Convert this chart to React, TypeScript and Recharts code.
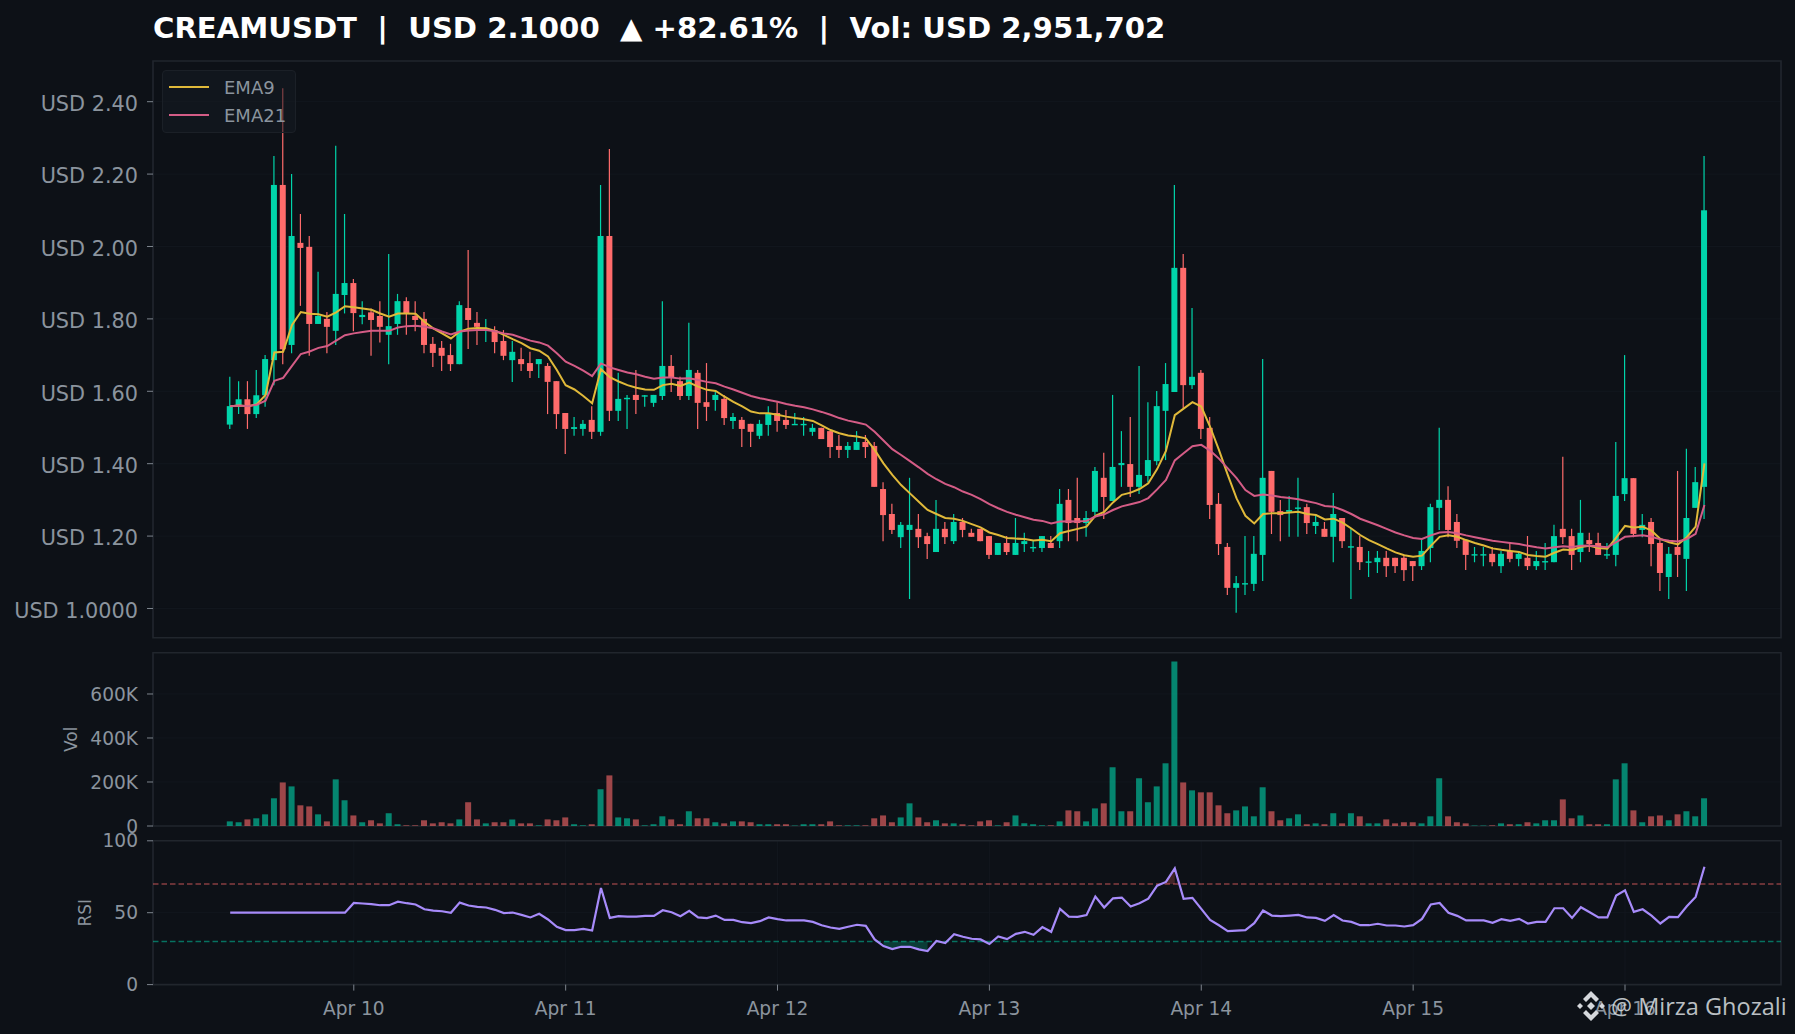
import React from 'react'
import {
  Area,
  Bar,
  CartesianGrid,
  Cell,
  ComposedChart,
  Legend,
  Line,
  ReferenceArea,
  ReferenceLine,
  XAxis,
  YAxis,
} from 'recharts'

// hourly candles, Apr 9 10:00 to Apr 16 09:00
const opens = [
  1.508, 1.558, 1.578, 1.537, 1.589, 1.686, 2.17, 1.728, 2.01, 1.999,
  1.786, 1.8, 1.767, 1.866, 1.899, 1.805, 1.818, 1.808, 1.756, 1.786,
  1.849, 1.808, 1.8, 1.731, 1.72, 1.7, 1.675, 1.83, 1.789, 1.769,
  1.769, 1.739, 1.686, 1.689, 1.678, 1.675, 1.67, 1.628, 1.54, 1.496,
  1.496, 1.521, 1.488, 2.029, 1.546, 1.578, 1.59, 1.587, 1.568, 1.587,
  1.67, 1.628, 1.587, 1.651, 1.57, 1.576, 1.579, 1.518, 1.521, 1.51,
  1.477, 1.507, 1.54, 1.521, 1.508, 1.508, 1.488, 1.499, 1.49, 1.449,
  1.438, 1.438, 1.46, 1.449, 1.33, 1.261, 1.197, 1.217, 1.22, 1.2,
  1.156, 1.22, 1.186, 1.239, 1.209, 1.22, 1.2, 1.148, 1.181, 1.148,
  1.178, 1.168, 1.167, 1.181, 1.186, 1.3, 1.25, 1.236, 1.267, 1.361,
  1.297, 1.396, 1.399, 1.336, 1.366, 1.407, 1.546, 1.598, 1.941, 1.617,
  1.651, 1.499, 1.289, 1.17, 1.057, 1.068, 1.068, 1.148, 1.38, 1.269,
  1.267, 1.278, 1.28, 1.228, 1.22, 1.198, 1.25, 1.168, 1.17, 1.128,
  1.128, 1.14, 1.14, 1.14, 1.131, 1.117, 1.167, 1.278, 1.3, 1.239,
  1.189, 1.148, 1.148, 1.151, 1.117, 1.159, 1.137, 1.14, 1.117, 1.129,
  1.128, 1.22, 1.2, 1.156, 1.189, 1.181, 1.148, 1.148, 1.316, 1.36,
  1.217, 1.239, 1.181, 1.087, 1.17, 1.137, 1.278, 1.336,
]
const highs = [
  1.64, 1.628, 1.628, 1.659, 1.7, 2.25, 2.437, 2.2, 2.09, 2.029,
  1.93, 1.819, 2.278, 2.09, 1.91, 1.849, 1.829, 1.849, 1.979, 1.869,
  1.86, 1.849, 1.819, 1.75, 1.739, 1.731, 1.849, 1.99, 1.819, 1.8,
  1.78, 1.769, 1.739, 1.72, 1.709, 1.689, 1.678, 1.628, 1.54, 1.529,
  1.521, 1.559, 2.17, 2.269, 1.651, 1.59, 1.659, 1.59, 1.59, 1.849,
  1.7, 1.64, 1.789, 1.659, 1.678, 1.598, 1.59, 1.54, 1.529, 1.51,
  1.521, 1.559, 1.57, 1.548, 1.54, 1.529, 1.51, 1.499, 1.49, 1.479,
  1.46, 1.49, 1.479, 1.46, 1.349, 1.289, 1.239, 1.361, 1.261, 1.209,
  1.3, 1.239, 1.261, 1.25, 1.22, 1.22, 1.2, 1.181, 1.2, 1.25,
  1.209, 1.189, 1.2, 1.2, 1.33, 1.33, 1.361, 1.269, 1.391, 1.43,
  1.59, 1.49, 1.529, 1.67, 1.57, 1.601, 1.678, 2.17, 1.979, 1.83,
  1.659, 1.529, 1.319, 1.181, 1.09, 1.2, 1.2, 1.689, 1.38, 1.3,
  1.311, 1.361, 1.289, 1.261, 1.239, 1.319, 1.25, 1.222, 1.2, 1.159,
  1.159, 1.159, 1.14, 1.148, 1.131, 1.189, 1.289, 1.499, 1.338, 1.261,
  1.189, 1.17, 1.17, 1.17, 1.159, 1.181, 1.159, 1.2, 1.159, 1.181,
  1.231, 1.419, 1.22, 1.3, 1.209, 1.209, 1.181, 1.46, 1.7, 1.36,
  1.261, 1.25, 1.189, 1.17, 1.38, 1.441, 1.391, 2.25,
]
const lows = [
  1.496, 1.537, 1.496, 1.526, 1.557, 1.617, 1.675, 1.705, 1.836, 1.698,
  1.786, 1.705, 1.728, 1.815, 1.766, 1.785, 1.698, 1.735, 1.675, 1.756,
  1.756, 1.766, 1.705, 1.667, 1.656, 1.656, 1.675, 1.717, 1.728, 1.736,
  1.705, 1.686, 1.626, 1.656, 1.637, 1.637, 1.537, 1.496, 1.427, 1.477,
  1.477, 1.468, 1.477, 1.518, 1.518, 1.496, 1.537, 1.557, 1.557, 1.576,
  1.598, 1.576, 1.576, 1.496, 1.518, 1.546, 1.507, 1.496, 1.446, 1.446,
  1.468, 1.477, 1.488, 1.496, 1.507, 1.477, 1.477, 1.468, 1.416, 1.416,
  1.416, 1.438, 1.416, 1.336, 1.186, 1.206, 1.167, 1.026, 1.167, 1.137,
  1.156, 1.178, 1.178, 1.197, 1.198, 1.186, 1.137, 1.148, 1.148, 1.148,
  1.156, 1.156, 1.156, 1.167, 1.167, 1.186, 1.186, 1.198, 1.258, 1.247,
  1.297, 1.336, 1.308, 1.316, 1.349, 1.396, 1.41, 1.598, 1.554, 1.606,
  1.468, 1.247, 1.148, 1.037, 0.988, 1.037, 1.048, 1.076, 1.206, 1.186,
  1.198, 1.198, 1.206, 1.206, 1.198, 1.128, 1.167, 1.026, 1.106, 1.087,
  1.098, 1.087, 1.098, 1.076, 1.076, 1.106, 1.128, 1.217, 1.197, 1.167,
  1.106, 1.128, 1.117, 1.117, 1.098, 1.128, 1.117, 1.106, 1.106, 1.106,
  1.128, 1.178, 1.106, 1.128, 1.156, 1.148, 1.137, 1.117, 1.297, 1.197,
  1.197, 1.117, 1.048, 1.026, 1.087, 1.048, 1.278, 1.247,
]
const closes = [
  1.559, 1.578, 1.537, 1.589, 1.689, 2.17, 1.716, 2.029, 1.996, 1.786,
  1.808, 1.778, 1.869, 1.899, 1.816, 1.811, 1.797, 1.778, 1.78, 1.849,
  1.816, 1.797, 1.728, 1.706, 1.698, 1.675, 1.838, 1.797, 1.778, 1.771,
  1.736, 1.698, 1.709, 1.675, 1.656, 1.689, 1.626, 1.537, 1.496, 1.501,
  1.51, 1.488, 2.029, 1.546, 1.579, 1.582, 1.576, 1.589, 1.59, 1.67,
  1.637, 1.587, 1.659, 1.568, 1.557, 1.59, 1.526, 1.529, 1.496, 1.488,
  1.51, 1.54, 1.518, 1.507, 1.51, 1.51, 1.499, 1.468, 1.446, 1.438,
  1.449, 1.46, 1.446, 1.336, 1.258, 1.217, 1.231, 1.231, 1.197, 1.178,
  1.22, 1.197, 1.239, 1.217, 1.198, 1.186, 1.148, 1.181, 1.156, 1.181,
  1.186, 1.17, 1.2, 1.167, 1.289, 1.236, 1.236, 1.25, 1.38, 1.308,
  1.391, 1.402, 1.336, 1.369, 1.41, 1.559, 1.62, 1.941, 1.617, 1.64,
  1.496, 1.286, 1.178, 1.057, 1.07, 1.07, 1.151, 1.361, 1.267, 1.258,
  1.272, 1.279, 1.236, 1.239, 1.198, 1.261, 1.186, 1.172, 1.128, 1.13,
  1.14, 1.117, 1.117, 1.106, 1.117, 1.159, 1.28, 1.3, 1.217, 1.187,
  1.148, 1.15, 1.15, 1.128, 1.151, 1.137, 1.151, 1.117, 1.131, 1.131,
  1.2, 1.197, 1.148, 1.209, 1.178, 1.148, 1.15, 1.311, 1.36, 1.206,
  1.231, 1.178, 1.098, 1.151, 1.148, 1.25, 1.349, 2.1,
]
const ema9 = [
  1.559, 1.561, 1.559, 1.564, 1.59, 1.707, 1.709, 1.783, 1.819, 1.814,
  1.813, 1.806, 1.818, 1.835, 1.832, 1.829, 1.825, 1.815, 1.806, 1.815,
  1.815, 1.814, 1.792, 1.774, 1.76, 1.746, 1.765, 1.773, 1.775, 1.774,
  1.767, 1.756, 1.744, 1.733, 1.719, 1.712, 1.696, 1.659, 1.617, 1.605,
  1.587, 1.567, 1.661, 1.639, 1.627, 1.617, 1.61, 1.605, 1.604, 1.617,
  1.621, 1.615, 1.624, 1.613, 1.604, 1.601, 1.585, 1.571, 1.558, 1.544,
  1.539, 1.539, 1.535, 1.53, 1.526, 1.523, 1.518, 1.506, 1.493, 1.484,
  1.478, 1.475, 1.47, 1.438, 1.401, 1.369, 1.341, 1.318, 1.295, 1.272,
  1.261, 1.25, 1.248, 1.242, 1.233, 1.224, 1.21, 1.203, 1.195, 1.193,
  1.192, 1.188, 1.19, 1.186, 1.208, 1.214, 1.22, 1.226, 1.256, 1.267,
  1.293, 1.314, 1.32, 1.33, 1.346, 1.385, 1.435, 1.534, 1.552, 1.57,
  1.558, 1.502, 1.438, 1.369, 1.304, 1.256, 1.235, 1.261, 1.263, 1.263,
  1.265, 1.267, 1.261, 1.258, 1.246, 1.248, 1.237, 1.221, 1.203, 1.189,
  1.178, 1.166, 1.155, 1.147, 1.143, 1.146, 1.173, 1.198, 1.202, 1.198,
  1.189, 1.181, 1.174, 1.166, 1.162, 1.159, 1.156, 1.148, 1.145, 1.143,
  1.154, 1.163, 1.161, 1.17, 1.173, 1.167, 1.165, 1.196, 1.228, 1.224,
  1.226, 1.215, 1.192, 1.183, 1.177, 1.197, 1.226, 1.401,
]
const ema21 = [
  1.559, 1.561, 1.559, 1.563, 1.574, 1.629, 1.637, 1.67, 1.703, 1.71,
  1.72, 1.725, 1.74, 1.755, 1.76, 1.764, 1.767, 1.767, 1.767, 1.776,
  1.78, 1.781, 1.778, 1.774, 1.765, 1.757, 1.765, 1.768, 1.769, 1.769,
  1.766, 1.76, 1.756, 1.748, 1.74, 1.735, 1.726, 1.705, 1.682, 1.67,
  1.657, 1.642, 1.677, 1.666, 1.659, 1.652, 1.647, 1.64, 1.635, 1.638,
  1.638, 1.635, 1.636, 1.631, 1.626, 1.622, 1.613, 1.605, 1.596, 1.587,
  1.581, 1.576, 1.571, 1.565, 1.56, 1.556, 1.55, 1.543, 1.535, 1.526,
  1.519, 1.514, 1.508, 1.488, 1.464, 1.44, 1.424, 1.407, 1.39, 1.372,
  1.357, 1.344, 1.335, 1.323, 1.314, 1.302, 1.288, 1.277, 1.267, 1.259,
  1.252, 1.245, 1.242, 1.235, 1.24, 1.241, 1.24, 1.242, 1.254, 1.26,
  1.272, 1.282, 1.288, 1.294, 1.305, 1.329, 1.355, 1.409, 1.429, 1.448,
  1.452, 1.436, 1.414, 1.387, 1.36, 1.327, 1.311, 1.315, 1.312, 1.308,
  1.305, 1.302, 1.296, 1.291, 1.283, 1.281, 1.272, 1.261, 1.248, 1.239,
  1.23, 1.22, 1.21, 1.202, 1.195, 1.192, 1.202, 1.21, 1.211, 1.208,
  1.202, 1.197, 1.192, 1.187, 1.184, 1.181, 1.178, 1.173, 1.169, 1.166,
  1.169, 1.172, 1.17, 1.173, 1.174, 1.171, 1.169, 1.183, 1.198, 1.2,
  1.202, 1.198, 1.191, 1.187, 1.185, 1.192, 1.206, 1.286,
]
// thousands of USD
const volumes = [
  21, 17, 30, 35, 53, 126, 198, 180, 94, 89,
  53, 21, 212, 117, 48, 17, 26, 12, 58, 8,
  3, 3, 26, 12, 17, 12, 30, 108, 30, 12,
  17, 17, 30, 12, 12, 3, 30, 26, 39, 8,
  3, 8, 167, 230, 39, 35, 30, 3, 8, 44,
  30, 8, 67, 35, 35, 17, 12, 21, 21, 17,
  8, 8, 8, 8, 2, 8, 8, 8, 21, 3,
  3, 3, 3, 35, 48, 17, 39, 103, 39, 17,
  26, 12, 12, 8, 3, 21, 26, 3, 17, 48,
  12, 8, 3, 3, 21, 71, 67, 21, 80, 103,
  267, 67, 67, 217, 108, 180, 285, 748, 198, 162,
  153, 153, 94, 58, 71, 89, 44, 176, 67, 26,
  35, 53, 8, 12, 8, 58, 12, 58, 44, 12,
  12, 30, 12, 17, 17, 12, 44, 217, 44, 17,
  12, 2, 2, 3, 12, 8, 8, 17, 12, 26,
  26, 121, 35, 48, 8, 8, 8, 212, 285, 71,
  17, 44, 48, 26, 53, 67, 44, 126,
]
const rsi = [
  50, 50, 50, 50, 50, 50, 50, 50, 50, 50,
  50, 50, 50, 50, 56.8, 56.4, 55.9, 55.2, 55.2, 57.7,
  56.6, 55.7, 52.4, 51.5, 51, 49.9, 57, 55, 54, 53.6,
  52, 49.7, 50.1, 48.5, 46.7, 49.2, 45.3, 40.2, 37.9, 37.9,
  38.8, 37.6, 67.2, 46.4, 47.6, 47.3, 47.3, 47.8, 47.8, 51.7,
  50.3, 47.6, 51.3, 46.7, 46.2, 48, 45, 45, 43.4, 42.7,
  44.1, 46.7, 45.5, 44.6, 44.6, 44.6, 43.6, 41.3, 39.7, 38.8,
  40.2, 41.6, 40.9, 31.4, 26.8, 24.7, 26.3, 26.3, 24.5, 23.3,
  30.3, 28.9, 35.1, 33.3, 31.9, 31.4, 28.2, 33.5, 31.6, 35.3,
  36.7, 34.6, 40, 36.7, 52.7, 47.3, 47.1, 48.3, 61.2, 53.6,
  60, 60.5, 54.3, 56.6, 59.8, 68.8, 71.4, 80.8, 59.6, 60.3,
  52.7, 45, 41.3, 37.2, 37.6, 37.9, 42.7, 51.5, 48, 47.6,
  48, 48.5, 46.7, 46.4, 44.3, 48.3, 44.6, 43.6, 41.3, 41.3,
  42.3, 41.1, 41.1, 40.4, 41.3, 45.7, 55.7, 56.8, 49.9, 47.8,
  44.6, 44.6, 44.6, 43, 45.5, 44.3, 45.7, 42.5, 43.6, 43.6,
  53.1, 53.1, 46.4, 53.8, 50.3, 46.7, 46.7, 61.9, 65.6, 50.6,
  52.4, 48, 42.5, 47.1, 46.9, 54.5, 61, 82,
]

const dayTicks = [14, 38, 62, 86, 110, 134, 158]
const dayLabels = ['Apr 10', 'Apr 11', 'Apr 12', 'Apr 13', 'Apr 14', 'Apr 15', 'Apr 16']
const priceTicks = [1, 1.2, 1.4, 1.6, 1.8, 2, 2.2, 2.4]
const volumeTicks = [0, 200, 400, 600]
const rsiTicks = [0, 50, 100]

const BG = '#0d1117'
const GREEN = '#00d4aa'
const RED = '#ff6b6b'
const SPINE = '#21262d'
const GRID = '#12171e'
const MUTED = '#8b949e'
const XDOMAIN: [number, number] = [-8.745, 175.67]
const PRICE_DOMAIN: [number, number] = [0.9193, 2.5124]
const VOLUME_DOMAIN: [number, number] = [0, 787.7]

const rows = opens.map((open, i) => ({
  i,
  open,
  close: closes[i],
  high: highs[i],
  low: lows[i],
  range: [lows[i], highs[i]],
  ema9: ema9[i],
  ema21: ema21[i],
  volume: volumes[i],
  rsi: rsi[i],
  oversold: rsi[i] < 30 ? [rsi[i], 30] : null,
  overbought: rsi[i] > 70 ? [70, rsi[i]] : null,
}))

// the bar spans low to high, the body is worked out from that same scale
const Candle = (props: any) => {
  const { x, y, width, height, payload } = props
  const perUnit = height / (payload.high - payload.low)
  const up = payload.close >= payload.open
  const color = up ? GREEN : RED
  const top = y + (payload.high - Math.max(payload.open, payload.close)) * perUnit
  const bodyHeight = Math.max(Math.abs(payload.close - payload.open) * perUnit, 1.4)
  const center = x + width / 2
  return (
    <g>
      <line x1={center} x2={center} y1={y} y2={y + height} stroke={color} strokeWidth={1.2} />
      <rect x={x} y={top} width={width} height={bodyHeight} fill={color} />
    </g>
  )
}

const LegendBox = ({ payload }: any) => (
  <div
    style={{
      boxSizing: 'border-box',
      width: 134,
      height: 63,
      background: 'rgba(22,27,34,0.55)',
      border: '1px solid #1b2027',
      borderRadius: 4,
      fontFamily: 'DejaVu Sans',
      fontSize: 18,
      color: MUTED,
    }}
  >
    {(payload || [])
      .filter((item: any) => item.type !== 'none')
      .map((item: any, idx: number) => (
        <div key={item.value} style={{ position: 'absolute', left: 7, top: 5 + idx * 28, height: 24, display: 'flex', alignItems: 'center' }}>
          <span style={{ width: 40, height: 2, background: item.color, marginRight: 15 }} />
          {item.value}
        </div>
      ))}
  </div>
)

const axisTick = { fill: MUTED, fontFamily: 'DejaVu Sans' }

const Frame = ({ y1, y2 }: { y1: number; y2: number }) => (
  <ReferenceArea
    x1={XDOMAIN[0]}
    x2={XDOMAIN[1]}
    y1={y1}
    y2={y2}
    fill="none"
    stroke={SPINE}
    strokeWidth={1.6}
    ifOverflow="visible"
  />
)

const axisLabel = (value: string, offset: number) => ({
  value,
  angle: -90,
  position: 'insideLeft' as const,
  offset,
  style: { textAnchor: 'middle', fill: MUTED, fontFamily: 'DejaVu Sans', fontSize: 17 },
})

const Watermark = () => (
  <div style={{ position: 'absolute', left: 1575, top: 990, display: 'flex', alignItems: 'center', color: 'rgba(220,224,228,0.85)', fontFamily: 'Open Sans', fontSize: 23.5, whiteSpace: 'nowrap' }}>
    <svg width={32} height={32} viewBox="0 0 32 32" style={{ marginRight: 4 }}>
      <g fill="#d5d8dc">
        <polygon points="16,1 24,9 21,12 16,7 11,12 8,9" />
        <polygon points="16,31 24,23 21,20 16,25 11,20 8,23" />
        <polygon points="2,16 5,13 8,16 5,19" />
        <polygon points="24,16 27,13 30,16 27,19" />
        <polygon points="16,12 20,16 16,20 12,16" />
      </g>
    </svg>
    @ Mirza Ghozali
  </div>
)

export default function App() {
  return (
    <div style={{ position: 'absolute', left: 0, top: 0, width: 1795, height: 1034, background: BG, overflow: 'hidden' }}>
      <div style={{ position: 'absolute', left: 153, top: 11, color: '#ffffff', fontFamily: 'DejaVu Sans', fontWeight: 700, fontSize: 29.15, whiteSpace: 'pre' }}>
        {'CREAMUSDT  |  USD 2.1000  ▲ +82.61%  |  Vol: USD 2,951,702'}
      </div>

      <div style={{ position: 'absolute', left: 0, top: 0 }}>
        <ComposedChart width={1795} height={650} data={rows} margin={{ top: 61, right: 14, bottom: 12.3, left: 0 }}>
          <CartesianGrid stroke={GRID} />
          <XAxis dataKey="i" type="number" domain={XDOMAIN} ticks={dayTicks} allowDataOverflow height={0} tick={false} tickLine={false} axisLine={false} />
          <YAxis
            width={153}
            domain={PRICE_DOMAIN}
            ticks={priceTicks}
            allowDataOverflow
            interval={0}
            axisLine={false}
            tickSize={6}
            tickMargin={9}
            tickLine={{ stroke: '#7d848d' }}
            tick={{ ...axisTick, fontSize: 20.8, dy: 2 }}
            tickFormatter={(v: number) => (v === 1 ? 'USD 1.0000' : `USD ${v.toFixed(2)}`)}
          />
          {Frame({ y1: PRICE_DOMAIN[0], y2: PRICE_DOMAIN[1] })}
          <Bar dataKey="range" barSize={6} shape={Candle} legendType="none" isAnimationActive={false} />
          <Line dataKey="ema9" name="EMA9" stroke="#e0b93a" strokeWidth={2} dot={false} type="linear" isAnimationActive={false} />
          <Line dataKey="ema21" name="EMA21" stroke="#d45c86" strokeWidth={2} dot={false} type="linear" isAnimationActive={false} />
          <Legend layout="vertical" align="center" verticalAlign="middle" itemSorter={null} content={<LegendBox />} wrapperStyle={{ position: 'absolute', left: 162, top: 70, width: 134, height: 63 }} />
        </ComposedChart>
      </div>

      <div style={{ position: 'absolute', left: 0, top: 650 }}>
        <ComposedChart width={1795} height={190} data={rows} margin={{ top: 2.7, right: 14, bottom: 14, left: 0 }}>
          <CartesianGrid stroke={GRID} />
          <XAxis dataKey="i" type="number" domain={XDOMAIN} ticks={dayTicks} allowDataOverflow height={0} tick={false} tickLine={false} axisLine={false} />
          <YAxis
            width={153}
            domain={VOLUME_DOMAIN}
            ticks={volumeTicks}
            allowDataOverflow
            interval={0}
            axisLine={false}
            tickSize={6}
            tickMargin={9}
            tickLine={{ stroke: '#7d848d' }}
            tick={{ ...axisTick, fontSize: 18.6 }}
            tickFormatter={(v: number) => (v === 0 ? '0' : `${v}K`)}
            label={axisLabel('Vol', 71)}
          />
          {Frame({ y1: VOLUME_DOMAIN[0], y2: VOLUME_DOMAIN[1] })}
          <Bar dataKey="volume" barSize={6} fillOpacity={0.6} isAnimationActive={false}>
            {rows.map((row) => (
              <Cell key={row.i} fill={row.close >= row.open ? GREEN : RED} />
            ))}
          </Bar>
        </ComposedChart>
      </div>

      <div style={{ position: 'absolute', left: 0, top: 820 }}>
        <ComposedChart width={1795} height={214} data={rows} margin={{ top: 20.8, right: 14, bottom: 0, left: 0 }}>
          <CartesianGrid stroke={GRID} />
          <XAxis
            dataKey="i"
            type="number"
            domain={XDOMAIN}
            ticks={dayTicks}
            allowDataOverflow
            interval={0}
            height={49.4}
            axisLine={false}
            tickSize={6}
            tickMargin={11}
            tickLine={{ stroke: '#7d848d' }}
            tick={{ ...axisTick, fontSize: 18.6 }}
            tickFormatter={(v: number) => dayLabels[dayTicks.indexOf(v)]}
          />
          <YAxis
            width={153}
            domain={[0, 100]}
            ticks={rsiTicks}
            allowDataOverflow
            interval={0}
            axisLine={false}
            tickSize={6}
            tickMargin={9}
            tickLine={{ stroke: '#7d848d' }}
            tick={{ ...axisTick, fontSize: 18.6 }}
            label={axisLabel('RSI', 85)}
          />
          {Frame({ y1: 0, y2: 100 })}
          <ReferenceLine y={70} stroke={RED} strokeOpacity={0.5} strokeWidth={1.4} strokeDasharray="5.5 3" />
          <ReferenceLine y={30} stroke={GREEN} strokeOpacity={0.5} strokeWidth={1.4} strokeDasharray="5.5 3" />
          <Area dataKey="oversold" stroke="none" fill={GREEN} fillOpacity={0.22} dot={false} activeDot={false} isAnimationActive={false} />
          <Area dataKey="overbought" stroke="none" fill={RED} fillOpacity={0.22} dot={false} activeDot={false} isAnimationActive={false} />
          <Line dataKey="rsi" stroke="#a78bfa" strokeWidth={2.2} dot={false} type="linear" isAnimationActive={false} />
        </ComposedChart>
      </div>

      <Watermark />
    </div>
  )
}
